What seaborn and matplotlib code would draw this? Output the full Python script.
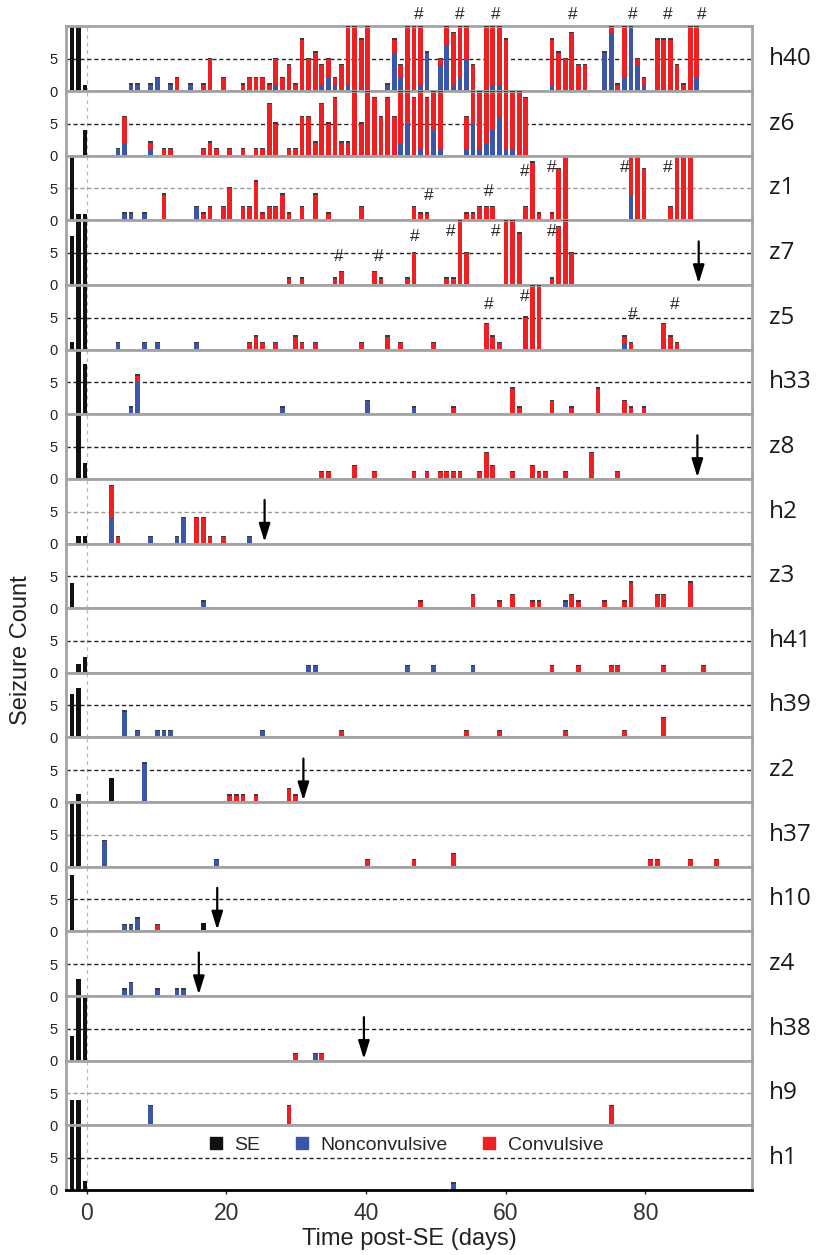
import matplotlib
matplotlib.use("Agg")
import numpy as np
import pandas as pd
import matplotlib.pyplot as plt
from matplotlib.lines import Line2D
import seaborn as sns

# recording-day index -> position on the time axis (days post-SE)
DAY0 = -0.24
DAY_STEP = 0.942

# per animal: (day index, seizure count) for SE, nonconvulsive and convulsive
h40_se = [(-2, 10), (-1, 10), (0, 1)]
h40_nc = [(7, 1), (8, 1), (10, 1), (11, 2), (13, 1), (16, 1), (29, 1), (36, 1), (37, 2), (38, 1),
          (40, 1), (46, 1), (47, 6), (48, 2), (51, 1), (52, 6), (54, 4), (55, 7), (56, 1), (57, 2),
          (58, 5), (62, 1), (63, 1), (71, 1), (79, 6), (80, 9), (82, 2), (83, 10), (84, 4), (85, 1),
          (93, 2)]
h40_cv = [(14, 2), (18, 1), (19, 5), (21, 2), (24, 1), (25, 2), (26, 2), (27, 2), (28, 1), (29, 4),
          (30, 2), (31, 4), (32, 1), (33, 8), (34, 5), (35, 6), (36, 3), (37, 3), (38, 1), (39, 4),
          (40, 9), (41, 10), (42, 8), (43, 10), (47, 2), (48, 2), (49, 10), (50, 10), (51, 9),
          (54, 1), (55, 3), (56, 8), (57, 8), (58, 5), (59, 4), (61, 10), (62, 9), (63, 9), (64, 8),
          (71, 7), (72, 6), (73, 5), (74, 9), (75, 4), (76, 4), (80, 1), (81, 1), (82, 8), (84, 1),
          (85, 1), (87, 8), (88, 8), (89, 8), (90, 4), (91, 1), (92, 10), (93, 8)]

z6_se = [(0, 4)]
z6_nc = [(5, 1), (6, 2), (10, 1), (48, 2), (49, 5), (51, 1), (53, 4), (54, 1), (58, 1), (59, 5),
         (60, 1), (61, 2), (62, 4), (63, 6), (64, 1), (65, 1)]
z6_cv = [(6, 4), (10, 1), (12, 1), (13, 1), (18, 1), (19, 2), (20, 1), (22, 1), (24, 1), (26, 1),
         (27, 1), (28, 8), (29, 5), (31, 1), (32, 1), (33, 6), (34, 6), (35, 2), (36, 8), (37, 5),
         (38, 9), (39, 2), (40, 2), (41, 10), (42, 5), (43, 10), (44, 9), (45, 6), (46, 9), (47, 6),
         (48, 8), (49, 5), (50, 9), (51, 9), (52, 9), (53, 6), (54, 9), (58, 5), (59, 5), (60, 9),
         (61, 8), (62, 6), (63, 4), (64, 9), (65, 9), (66, 10), (67, 9)]

z1_se = [(-2, 10), (-1, 1), (0, 1)]
z1_nc = [(6, 1), (7, 1), (9, 1), (17, 2), (83, 4)]
z1_cv = [(12, 4), (18, 1), (19, 2), (21, 2), (22, 5), (24, 2), (25, 2), (26, 6), (27, 1), (28, 2),
         (29, 2), (30, 4), (31, 1), (33, 2), (35, 4), (37, 1), (42, 2), (50, 2), (51, 1), (52, 1),
         (58, 1), (59, 1), (60, 2), (61, 2), (62, 2), (67, 2), (68, 9), (69, 1), (71, 1), (72, 8),
         (73, 10), (83, 6), (84, 10), (85, 8), (89, 2), (90, 10), (91, 10), (92, 10)]

z7_se = [(-2, 7.6), (-1, 10), (0, 10)]
z7_nc = []
z7_cv = [(31, 1), (33, 1), (38, 1), (39, 2), (44, 2), (45, 1), (49, 1), (50, 5), (55, 1), (56, 1),
         (57, 10), (58, 5), (64, 10), (65, 10), (66, 8), (71, 1), (72, 9), (73, 10), (74, 5)]

z5_se = [(-2, 1.2), (-1, 10), (0, 10)]
z5_nc = [(5, 1), (9, 1), (11, 1), (17, 1), (82, 1)]
z5_cv = [(25, 1), (26, 2), (27, 1), (29, 1), (32, 2), (33, 1), (35, 1), (42, 1), (46, 2), (48, 1),
         (53, 1), (61, 4), (62, 2), (63, 1), (67, 5), (68, 10), (69, 10), (82, 1), (83, 1), (88, 4),
         (89, 2), (90, 1)]

h33_se = [(-1, 10), (0, 7.8)]
h33_nc = [(7, 1), (8, 5), (30, 1), (43, 2), (50, 1)]
h33_cv = [(8, 1), (56, 1), (65, 4), (66, 1), (71, 2), (74, 1), (78, 4), (82, 2), (83, 1), (85, 1)]

z8_se = [(-1, 10), (0, 2.5)]
z8_nc = []
z8_cv = [(36, 1), (37, 1), (41, 2), (44, 1), (50, 1), (52, 1), (54, 1), (55, 1), (56, 1), (57, 1),
         (60, 1), (61, 4), (62, 2), (65, 1), (68, 2), (69, 1), (70, 1), (73, 1), (77, 4), (81, 1)]

h2_se = [(-1, 1.2), (0, 1.2)]
h2_nc = [(4, 4), (10, 1), (14, 1), (15, 4), (25, 1)]
h2_cv = [(4, 5), (5, 1), (17, 4), (18, 4), (19, 1), (21, 1)]

z3_se = [(-2, 3.9)]
z3_nc = [(18, 1), (73, 1)]
z3_cv = [(51, 1), (59, 2), (63, 1), (65, 2), (68, 1), (69, 1), (74, 2), (75, 1), (79, 1), (82, 1),
         (83, 4), (87, 2), (88, 2), (92, 4)]

h41_se = [(-1, 1.3), (0, 2.5)]
h41_nc = [(34, 1), (35, 1), (49, 1), (53, 1), (59, 1)]
h41_cv = [(71, 1), (75, 1), (80, 1), (81, 1), (88, 1), (94, 1)]

h39_se = [(-2, 6.8), (-1, 7.8)]
h39_nc = [(6, 4), (8, 1), (11, 1), (12, 1), (13, 1), (27, 1)]
h39_cv = [(39, 1), (58, 1), (63, 1), (73, 1), (82, 1), (88, 3)]

z2_se = [(-1, 1.3), (4, 3.8)]
z2_nc = [(9, 6)]
z2_cv = [(22, 1), (23, 1), (24, 1), (26, 1), (31, 2), (32, 1)]

h37_se = [(-2, 10), (-1, 10)]
h37_nc = [(3, 4), (20, 1)]
h37_cv = [(43, 1), (50, 1), (56, 2), (86, 1), (87, 1), (92, 1), (96, 1)]

h10_se = [(-2, 8.8), (18, 1.3)]
h10_nc = [(6, 1), (7, 1), (8, 2)]
h10_cv = [(11, 1)]

z4_se = [(-1, 2.6)]
z4_nc = [(6, 1), (7, 2), (11, 1), (14, 1), (15, 1)]
z4_cv = []

h38_se = [(-2, 3.9), (-1, 10), (0, 10)]
h38_nc = [(35, 1)]
h38_cv = [(32, 1), (36, 1)]

h9_se = [(-2, 4), (-1, 4)]
h9_nc = [(10, 3)]
h9_cv = [(31, 3), (80, 3)]

h1_se = [(-2, 10), (-1, 10), (0, 1.4)]
h1_nc = [(56, 1)]
h1_cv = []

PANELS = [
    ("h40", h40_se, h40_nc, h40_cv), ("z6", z6_se, z6_nc, z6_cv), ("z1", z1_se, z1_nc, z1_cv),
    ("z7", z7_se, z7_nc, z7_cv), ("z5", z5_se, z5_nc, z5_cv), ("h33", h33_se, h33_nc, h33_cv),
    ("z8", z8_se, z8_nc, z8_cv), ("h2", h2_se, h2_nc, h2_cv), ("z3", z3_se, z3_nc, z3_cv),
    ("h41", h41_se, h41_nc, h41_cv), ("h39", h39_se, h39_nc, h39_cv), ("z2", z2_se, z2_nc, z2_cv),
    ("h37", h37_se, h37_nc, h37_cv), ("h10", h10_se, h10_nc, h10_cv), ("z4", z4_se, z4_nc, z4_cv),
    ("h38", h38_se, h38_nc, h38_cv), ("h9", h9_se, h9_nc, h9_cv), ("h1", h1_se, h1_nc, h1_cv),
]

# end-of-recording arrows (day index)
arrow_days = {"z7": 93.3, "z8": 93.1, "h2": 27.3, "z2": 33.2, "h10": 20.1, "z4": 17.3, "h38": 42.4}

# '#' marks: (day index, height); h40 marks sit above the panel
h40_marks = [50.7, 57.0, 62.5, 74.1, 83.2, 88.6, 93.8]
z1_marks = [(52.3, 3.8), (61.4, 4.5), (66.9, 7.7), (71.0, 8.2), (82.1, 8.2), (88.6, 8.2)]
z7_marks = [(38.6, 4.5), (44.7, 4.5), (50.1, 7.6), (55.6, 8.4), (62.5, 8.4), (71.0, 8.4)]
z5_marks = [(61.4, 7.1), (66.9, 8.3), (83.2, 5.5), (89.7, 7.1)]
inner_marks = {"z1": z1_marks, "z7": z7_marks, "z5": z5_marks}

light_dash = {"z1", "h2", "h37", "h9"}

KINDS = ["SE", "Nonconvulsive", "Convulsive"]
COLORS = {"SE": "#111111", "Nonconvulsive": "#3a56a8", "Convulsive": "#ee2024"}
CAP = "#3b3b3b"
YMAX = 10.1
SHRINK = 0.72


def to_time(day):
    return DAY0 + DAY_STEP * np.asarray(day, dtype=float)


def draw_panel(ax, name, se, nc, cv):
    rows = [(d, n, k) for k, series in zip(KINDS, (se, nc, cv)) for d, n in series]
    df = pd.DataFrame(rows, columns=["day", "n", "kind"])
    df["t"] = to_time(df["day"])
    lo, hi = int(df["day"].min()), int(df["day"].max())
    edges = to_time(np.arange(lo, hi + 2) - 0.5).tolist()
    sns.histplot(
        data=df, x="t", weights="n", hue="kind",
        hue_order=["Convulsive", "Nonconvulsive", "SE"], palette=COLORS,
        multiple="stack", bins=edges, shrink=SHRINK, alpha=1, linewidth=0,
        legend=False, ax=ax,
    )
    # dark tops on the seizure bars
    sz = df[df["kind"] != "SE"].groupby("day")["n"].sum()
    if len(sz):
        ax.bar(to_time(sz.index), 0.22, bottom=sz.values, width=DAY_STEP * SHRINK,
               color=CAP, linewidth=0, zorder=3)

    ax.set_xlim(-3.0, 95.3)
    ax.set_ylim(0, YMAX)
    ax.set_yticks([0, 5])
    ax.set_xlabel("")
    ax.set_ylabel("")
    dash_col = "#9a9a9a" if name in light_dash else "#222222"
    ax.axhline(5, color=dash_col, lw=1.0, ls=(0, (3, 2)), zorder=0.6)
    ax.axvline(0, color="#b8b8b8", lw=0.9, ls=(0, (3, 3)), zorder=0.5)
    for s in ax.spines.values():
        s.set_color("#a3a3a3")
        s.set_linewidth(2.0)
    ax.tick_params(axis="y", length=3.5, width=1, color="#777777", labelsize=10.5,
                   pad=2.5, labelcolor="#222222")
    ax.tick_params(axis="x", bottom=False)
    ax.text(1.025, 5 / YMAX, name, transform=ax.transAxes, va="center", ha="left",
            fontsize=17.5, family=["Open Sans", "DejaVu Sans"], color="#1a1a1a")

    if name in arrow_days:
        x = float(to_time(arrow_days[name]))
        ax.annotate("", xy=(x, 0.25), xytext=(x, 6.8),
                    arrowprops=dict(arrowstyle="-|>,head_length=0.55,head_width=0.17",
                                    color="black", lw=1.6, mutation_scale=20,
                                    shrinkA=0, shrinkB=0))
    for d, y in inner_marks.get(name, []):
        ax.text(float(to_time(d)), y, "#", ha="center", va="center", fontsize=12.5)


sns.set_style("white")
plt.rcParams["font.family"] = ["Liberation Sans", "DejaVu Sans"]

fig, axes = plt.subplots(len(PANELS), 1, figsize=(8.22, 12.55), dpi=100, sharex=True)
fig.subplots_adjust(left=0.080, right=0.915, top=0.979, bottom=0.0518, hspace=0)

for ax, (name, se, nc, cv) in zip(axes, PANELS):
    draw_panel(ax, name, se, nc, cv)

top = axes[0]
for d in h40_marks:
    top.text(float(to_time(d)), 11.9, "#", ha="center", va="center", fontsize=12.5, clip_on=False)

bottom = axes[-1]
bottom.spines["bottom"].set_color("black")
bottom.tick_params(axis="x", bottom=True, length=3, width=1, labelsize=16.5, pad=5.5,
                   labelcolor="#333333")
bottom.set_xticks([0, 20, 40, 60, 80])
bottom.set_xlabel("Time post-SE (days)", fontsize=17, labelpad=2.5, color="#222222")

handles = [Line2D([], [], marker="s", ls="", color=COLORS[k], markersize=9) for k in KINDS]
bottom.legend(handles, KINDS, ncol=3, frameon=False, loc="center",
              bbox_to_anchor=(0.496, 0.70), fontsize=14, handlelength=0.7,
              handletextpad=0.6, columnspacing=1.8, borderpad=0)

fig.text(0.025, 0.482, "Seizure Count", rotation=90, va="center", ha="center",
         fontsize=17, color="#222222")

fig.savefig("out.png", dpi=100)
